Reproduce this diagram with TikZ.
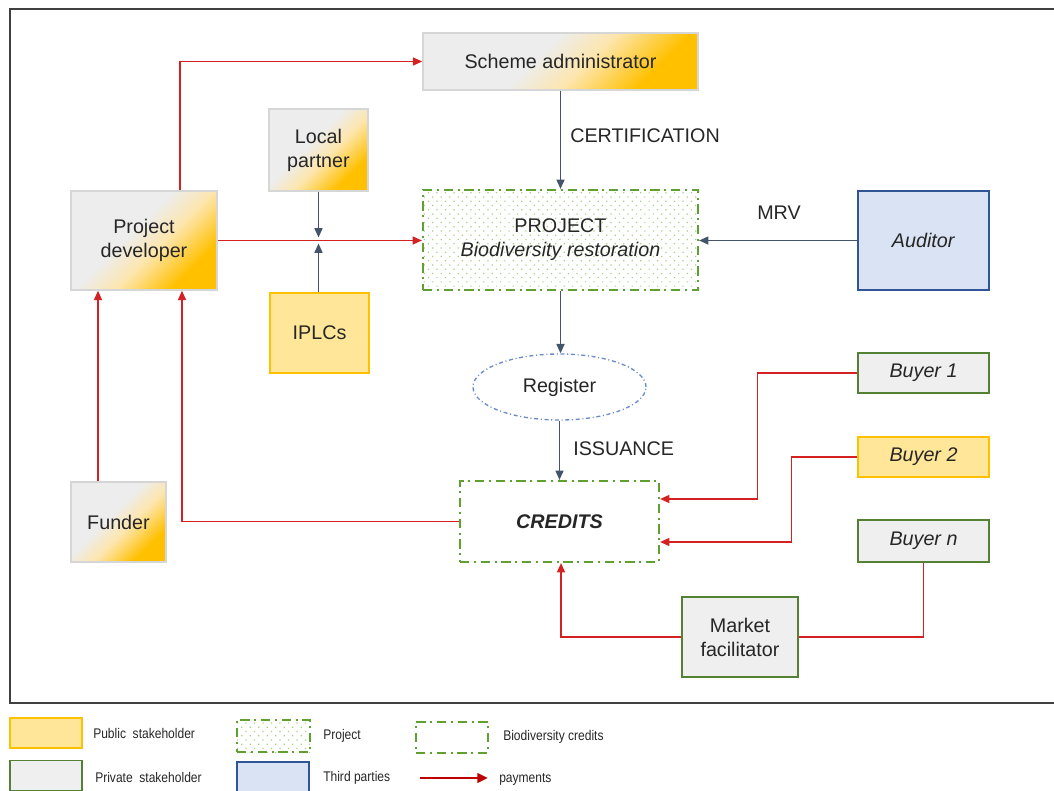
\documentclass[tikz,border=0pt]{standalone}
\usepackage{fontspec}
\setmainfont{Liberation Sans}
\newfontfamily\narrowf[FakeStretch=0.86]{Liberation Sans}
\usetikzlibrary{arrows.meta,calc,patterns.meta,shapes.geometric}
\definecolor{goldc}{HTML}{FFC000}
\definecolor{goldl}{HTML}{FFE699}
\definecolor{creamc}{HTML}{FDE6AE}
\definecolor{grayc}{HTML}{EDEDED}
\definecolor{grayf}{HTML}{EFEFEF}
\definecolor{bordg}{HTML}{D6D6D6}
\definecolor{greenb}{HTML}{548235}
\definecolor{blueb}{HTML}{2F5597}
\definecolor{bluef}{HTML}{DAE3F3}
\definecolor{projg}{HTML}{5FA030}
\definecolor{dotg}{HTML}{A6CF8A}
\definecolor{regb}{HTML}{6A8CCB}
\definecolor{payred}{HTML}{D42222}
\definecolor{legred}{HTML}{C00000}
\definecolor{flowc}{HTML}{44546A}
\definecolor{txt}{HTML}{262626}
\definecolor{framec}{HTML}{404040}
\pgfdeclareverticalshading{goldgray}{100bp}{color(0bp)=(goldc); color(28bp)=(goldc); color(44bp)=(creamc); color(56bp)=(grayc); color(100bp)=(grayc)}
\newcommand\pxu[1]{#1*0.75pt}
\newcommand\mainfs{\fontsize{14.8}{18}\selectfont}
\newcommand\legfs{\narrowf\fontsize{10.5}{12}\selectfont}
\begin{document}
\begin{tikzpicture}[x=0.75pt,y=0.75pt,
  every node/.style={text=txt},
  boxbase/.style={align=center, inner sep=0pt, font=\mainfs},
  gradbox/.style={boxbase, draw=bordg, line width=1.1pt, shading=goldgray, shading angle=45},
  pubbox/.style={boxbase, draw=goldc, fill=goldl, line width=0.9pt},
  privbox/.style={boxbase, draw=greenb, fill=grayf, line width=0.9pt},
  thirdbox/.style={boxbase, draw=blueb, fill=bluef, line width=0.9pt},
  creddash/.style={draw=projg, line width=1.6pt, dash pattern=on 7pt off 3.5pt on 1.5pt off 3.5pt},
  projbox/.style={boxbase, creddash, pattern={Dots[distance=4.5pt, radius=0.65pt, angle=45]}, pattern color=dotg},
  credbox/.style={boxbase, creddash},
  regbox/.style={boxbase, ellipse, draw=regb, line width=1pt, dash pattern=on 3pt off 2pt on 0.8pt off 2pt},
  pay/.style={draw=payred, line width=1.1pt, -{Triangle[length=7pt,width=6pt]}},
  payline/.style={draw=payred, line width=1.1pt},
  flow/.style={draw=flowc, line width=1.2pt, -{Triangle[length=7pt,width=6pt]}},
  lbl/.style={font=\mainfs, inner sep=0pt},
  legtext/.style={font=\legfs, anchor=west, inner sep=0pt}
]
\useasboundingbox (0,0) rectangle (1054,-791);
\draw[line width=1pt, framec] (1054,-9) -- (10,-9) -- (10,-703) -- (1054,-703);

% nodes
\node[gradbox, minimum width=\pxu{275}, minimum height=\pxu{57}] (sa) at (560.5,-61.5) {Scheme administrator};
\node[gradbox, minimum width=\pxu{99}, minimum height=\pxu{82}] (lp) at (318.5,-150) {Local\\partner};
\node[gradbox, minimum width=\pxu{146}, minimum height=\pxu{99}] (pd) at (144,-240.5) {Project\\developer};
\node[projbox, minimum width=\pxu{275}, minimum height=\pxu{100}] (proj) at (560.5,-240) {PROJECT\\\textit{Biodiversity restoration}};
\node[thirdbox, minimum width=\pxu{131}, minimum height=\pxu{99}] (aud) at (923.5,-240.5) {\textit{Auditor}};
\node[pubbox, minimum width=\pxu{99}, minimum height=\pxu{80}] (iplc) at (319.5,-333) {IPLCs};
\node[regbox, minimum width=\pxu{173}, minimum height=\pxu{66}] (reg) at (559.5,-387) {Register};
\node[privbox, minimum width=\pxu{131}, minimum height=\pxu{40}] (b1) at (923.5,-373) {\textit{Buyer 1}};
\node[pubbox, minimum width=\pxu{131}, minimum height=\pxu{40}] (b2) at (923.5,-457) {\textit{Buyer 2}};
\node[privbox, minimum width=\pxu{131}, minimum height=\pxu{42}] (bn) at (923.5,-541) {\textit{Buyer n}};
\node[gradbox, minimum width=\pxu{95}, minimum height=\pxu{80}] (fund) at (118.5,-522) {Funder};
\node[credbox, minimum width=\pxu{199}, minimum height=\pxu{81}] (cr) at (559.5,-521.5) {\textbf{\textit{CREDITS}}};
\node[privbox, minimum width=\pxu{116}, minimum height=\pxu{80}] (mf) at (740,-637) {Market\\facilitator};

% labels
\node[lbl, anchor=west] (lcert) at (570,-136) {CERTIFICATION};
\node[lbl] (lmrv) at (779,-213) {MRV};
\node[lbl, anchor=west] (liss) at (573,-449) {ISSUANCE};

% flows
\draw[flow] (sa.south) -- (proj.north);
\draw[flow] (aud.west) -- (aud.west -| proj.east);
\draw[flow] (proj.south) -- (proj.south |- reg.north);
\draw[flow] (reg.south) -- (reg.south |- cr.north);
\coordinate (jn) at (lp.south |- pd.east);
\draw[flow] (lp.south) -- ($(jn)+(0,3)$);
\draw[flow] (iplc.north -| lp.south) -- ($(jn)+(0,-3)$);

% payments
\draw[pay] ($(pd.north)+(36,0)$) |- (sa.west);
\draw[pay] (pd.east) -- (pd.east -| proj.west);
\coordinate (fa) at ($(fund.north)+(-20.5,0)$);
\draw[pay] (fa) -- (fa |- pd.south);
\coordinate (pdb) at ($(pd.south)+(38,0)$);
\draw[pay] (cr.west) -| (pdb);
\draw[pay] (b1.west) -- ++(-100,0) |- ($(cr.east)+(0,22.5)$);
\draw[pay] (b2.west) -- ++(-66,0) |- ($(cr.east)+(0,-20.5)$);
\draw[payline] (bn.south) |- (mf.east);
\draw[pay] (mf.west) -| ($(cr.south)+(1.5,0)$);

% legend
\node[pubbox, minimum width=\pxu{72}, minimum height=\pxu{30}] (kpub) at (46,-733) {};
\node[legtext] (tpub) at (93,-733) {Public\ \ stakeholder};
\node[privbox, minimum width=\pxu{72}, minimum height=\pxu{30}] (kpriv) at (46,-775.5) {};
\node[legtext] (tpriv) at (95,-777) {Private\ \ stakeholder};
\node[projbox, line width=1.3pt, minimum width=\pxu{73}, minimum height=\pxu{32}] (kproj) at (273.5,-736) {};
\node[legtext] (tproj) at (323,-736) {Project};
\node[thirdbox, minimum width=\pxu{72}, minimum height=\pxu{30}] (kthird) at (273,-777) {};
\node[legtext] (tthird) at (323,-778) {Third parties};
\node[credbox, line width=1.3pt, minimum width=\pxu{72}, minimum height=\pxu{31}] (kcred) at (452,-737.5) {};
\node[legtext] (tcred) at (503,-737) {Biodiversity credits};
\coordinate (kpa) at (420,-778);
\coordinate (kpb) at (488,-778);
\draw[draw=legred, line width=2pt, -{Triangle[length=8pt,width=7pt]}] (kpa) -- (kpb);
\node[legtext] (tpay) at (499,-779) {payments};
\end{tikzpicture}
\end{document}
